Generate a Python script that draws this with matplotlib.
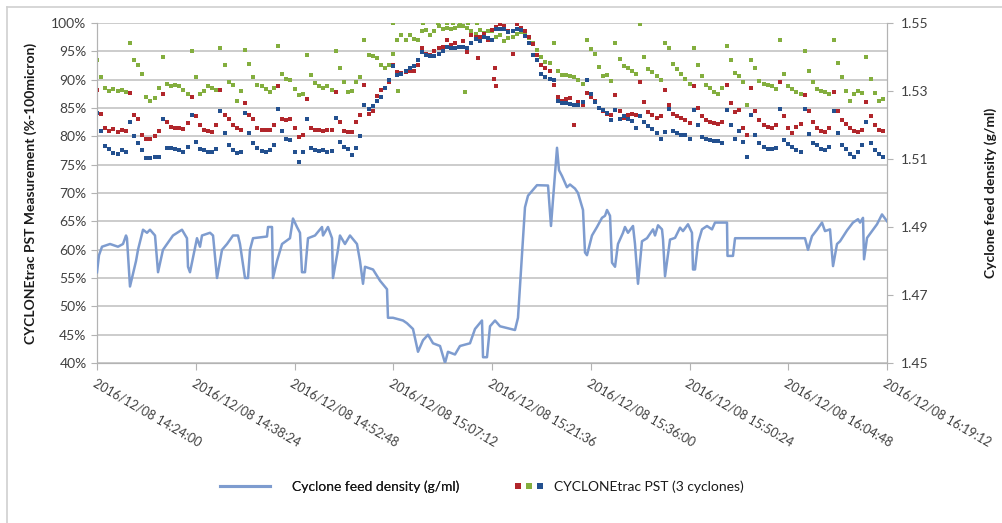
import numpy as np
import pandas as pd
import matplotlib
matplotlib.use("Agg")
import matplotlib.pyplot as plt
import matplotlib.dates as mdates
from matplotlib.ticker import PercentFormatter, FormatStrFormatter
from matplotlib.legend_handler import HandlerTuple
from matplotlib.lines import Line2D

plt.rcParams['font.family'] = ['Lato', 'DejaVu Sans']

inicio = pd.Timestamp("2016-12-08 14:24:00")

# densidad de alimentacion: (minutos desde 14:24:00, g/ml)
lectura_densidad = [
    (0.00, 1.4767), (0.29, 1.4817), (0.73, 1.4842), (1.90, 1.4850), (3.06, 1.4842),
    (3.79, 1.4850), (4.23, 1.4875), (4.37, 1.4867), (4.81, 1.4725), (5.69, 1.4800),
    (5.98, 1.4833), (6.71, 1.4892), (7.29, 1.4883), (7.73, 1.4892), (8.46, 1.4875),
    (8.90, 1.4767), (9.62, 1.4833), (11.08, 1.4875), (12.39, 1.4892), (13.12, 1.4867),
    (13.27, 1.4783), (13.56, 1.4767), (14.58, 1.4867), (15.02, 1.4842), (15.31, 1.4875),
    (16.48, 1.4883), (16.92, 1.4875), (17.50, 1.4750), (18.23, 1.4833), (18.96, 1.4850),
    (19.83, 1.4875), (20.56, 1.4875), (20.85, 1.4850), (21.58, 1.4750), (22.02, 1.4750),
    (22.31, 1.4833), (22.75, 1.4867), (24.79, 1.4872), (24.94, 1.4900), (25.52, 1.4900),
    (25.66, 1.4750), (26.25, 1.4800), (26.98, 1.4850), (28.14, 1.4867), (28.58, 1.4925),
    (29.16, 1.4900), (29.60, 1.4883), (29.89, 1.4767), (30.33, 1.4767), (30.77, 1.4867),
    (31.79, 1.4875), (32.81, 1.4900), (32.96, 1.4875), (33.68, 1.4900), (34.27, 1.4867),
    (34.41, 1.4750), (35.14, 1.4833), (35.43, 1.4875), (36.16, 1.4850), (36.89, 1.4875),
    (37.91, 1.4850), (38.35, 1.4800), (38.79, 1.4733), (39.08, 1.4783), (40.25, 1.4775),
    (41.27, 1.4742), (42.29, 1.4717), (42.43, 1.4633), (43.16, 1.4633), (44.62, 1.4625),
    (45.20, 1.4617), (46.08, 1.4600), (46.81, 1.4533), (47.54, 1.4567), (48.27, 1.4583),
    (49.00, 1.4558), (50.02, 1.4550), (50.75, 1.4500), (51.18, 1.4533), (52.20, 1.4525),
    (52.93, 1.4550), (54.39, 1.4558), (55.12, 1.4600), (56.14, 1.4625), (56.29, 1.4517),
    (56.87, 1.4517), (57.31, 1.4608), (58.04, 1.4625), (58.77, 1.4608), (60.95, 1.4597),
    (61.39, 1.4633), (61.97, 1.4820), (62.41, 1.4958), (62.85, 1.4992), (64.16, 1.5023),
    (65.77, 1.5022), (66.20, 1.4903), (66.64, 1.5017), (67.08, 1.5133), (67.37, 1.5067),
    (67.81, 1.5050), (68.53, 1.5017), (68.97, 1.5025), (69.70, 1.5013), (70.14, 1.5000),
    (70.87, 1.4950), (71.16, 1.4825), (71.45, 1.4817), (72.18, 1.4875), (72.91, 1.4900),
    (73.64, 1.4927), (74.08, 1.4933), (74.37, 1.4950), (74.81, 1.4933), (75.10, 1.4795),
    (75.54, 1.4783), (75.97, 1.4850), (76.70, 1.4883), (76.99, 1.4900), (77.43, 1.4883),
    (78.16, 1.4903), (78.45, 1.4850), (78.89, 1.4733), (79.47, 1.4858), (80.20, 1.4867),
    (81.08, 1.4893), (81.37, 1.4875), (81.81, 1.4905), (82.39, 1.4893), (82.54, 1.4863),
    (82.83, 1.4755), (83.56, 1.4863), (84.29, 1.4868), (85.02, 1.4898), (85.45, 1.4888),
    (86.18, 1.4908), (86.76, 1.4883), (86.91, 1.4775), (87.20, 1.4775), (87.64, 1.4853),
    (88.22, 1.4893), (88.95, 1.4903), (89.68, 1.4893), (90.12, 1.4913), (91.87, 1.4913),
    (91.94, 1.4815), (92.74, 1.4815), (93.04, 1.4867), (103.24, 1.4867), (103.68, 1.4833),
    (104.26, 1.4873), (104.99, 1.4892), (105.72, 1.4913), (106.16, 1.4888), (106.89, 1.4893),
    (107.33, 1.4785), (107.91, 1.4850), (108.35, 1.4858), (109.37, 1.4890), (110.24, 1.4913),
    (110.97, 1.4923), (111.27, 1.4913), (111.70, 1.4927), (111.85, 1.4805), (112.29, 1.4868),
    (113.01, 1.4888), (113.74, 1.4908), (114.47, 1.4937), (115.20, 1.4917),
]

# CYCLONEtrac PST (%-100micron), una lectura cada 0.6 min
paso_pst = 0.6
pst_verde = [
    93.5, 90.5, 88.5, 88.0, 88.3, 88.0, 88.2, 87.8, 96.5, 93.5,
    92.5, 91.0, 87.0, 86.3, 86.8, 88.5, 94.0, 89.2, 88.8, 89.0,
    88.8, 88.2, 87.5, 95.0, 90.5, 87.5, 88.0, 88.8, 88.6, 88.2,
    95.5, 92.5, 89.5, 89.0, 86.3, 88.0, 95.3, 92.8, 90.5, 89.0,
    88.8, 88.3, 87.8, 88.5, 96.0, 91.0, 90.2, 90.0, 88.3, 87.3,
    87.5, 94.4, 90.8, 89.4, 88.8, 88.5, 88.8, 88.2, 95.0, 92.0,
    89.5, 87.9, 88.0, 89.5, 90.5, 97.0, 94.4, 94.2, 93.8, 92.6,
    92.0, 92.5, 94.5, 97.0, 97.8, 97.0, 97.8, 97.2, 97.0, 98.5,
    98.8, 97.8, 98.5, 99.5, 99.0, 99.2, 99.0, 99.2, 99.4, 99.5,
    99.2, 98.5, 98.0, 98.8, 98.3, 98.6, 98.6, 97.5, 97.8, 96.8,
    97.3, 97.6, 98.0, 98.4, 98.1, 97.4, 96.4, 95.2, 94.0, 93.2,
    93.0, 96.4, 91.6, 90.8, 90.8, 90.7, 90.5, 90.0, 89.2, 97.0,
    95.4, 94.5, 92.2, 90.6, 90.8, 89.8, 96.4, 93.6, 92.4, 92.0,
    91.6, 91.0, 99.8, 94.0, 91.8, 91.4, 90.7, 90.0, 96.5, 95.5,
    92.8, 91.8, 91.0, 90.2, 89.3, 95.5, 92.6, 90.6, 89.0, 88.5,
    87.8, 87.4, 88.6, 96.0, 93.5, 91.2, 90.7, 89.5, 85.5, 93.5,
    92.0, 89.8, 89.2, 89.0, 88.8, 88.4, 97.0, 91.0, 88.8, 88.3,
    87.8, 87.5, 95.0, 91.5, 89.5, 88.3, 88.0, 87.8, 87.4, 97.0,
    93.0, 90.5, 88.0, 86.3, 87.5, 88.0, 87.6, 94.0, 90.2, 87.6,
    86.3, 86.5,
]
pst_rojo = [
    88.2, 84.0, 81.4, 81.0, 81.3, 80.8, 81.2, 81.0, 87.6, 83.8,
    83.0, 80.2, 79.6, 79.6, 80.0, 81.0, 87.5, 82.6, 81.7, 81.4,
    81.5, 81.3, 82.3, 87.0, 83.5, 82.0, 81.2, 81.0, 80.8, 82.0,
    88.2, 83.8, 83.0, 82.0, 81.4, 81.2, 85.8, 83.8, 83.0, 81.4,
    81.2, 81.1, 81.2, 82.0, 88.8, 83.0, 82.8, 83.0, 81.5, 79.8,
    80.3, 86.5, 81.5, 81.1, 81.1, 81.0, 81.2, 81.1, 87.9, 82.5,
    81.0, 80.8, 80.8, 82.5, 83.8, 89.0, 84.0, 84.5, 87.2, 88.2,
    88.5, 89.5, 92.5, 91.3, 91.1, 91.3, 91.5, 91.6, 92.6, 95.5,
    94.6, 94.4, 95.0, 95.5, 95.8, 97.0, 96.2, 96.5, 95.8, 96.8,
    94.9, 97.8, 97.5, 97.6, 98.0, 97.0, 98.8, 99.3, 99.8, 99.5,
    98.6, 94.6, 99.8, 99.2, 98.5, 97.5, 96.3, 94.4, 92.5, 92.0,
    91.5, 89.0, 87.0, 86.2, 86.5, 86.7, 82.0, 86.0, 85.5, 87.6,
    87.0, 86.2, 85.0, 84.5, 84.0, 83.8, 87.3, 84.5, 83.2, 83.8,
    84.0, 83.8, 89.6, 86.0, 84.3, 83.8, 83.2, 83.6, 88.2, 85.5,
    84.0, 83.5, 83.2, 82.8, 82.3, 88.8, 85.0, 83.5, 82.9, 82.5,
    82.3, 82.1, 82.6, 89.0, 85.8, 84.3, 84.6, 81.5, 80.2, 88.5,
    84.4, 82.8, 82.0, 81.6, 81.4, 82.0, 89.6, 83.5, 81.4, 80.5,
    81.6, 82.2, 87.3, 84.5, 82.6, 81.4, 81.0, 80.8, 81.4, 87.9,
    84.5, 82.9, 82.2, 81.4, 81.0, 80.8, 81.2, 86.1, 83.5, 82.0,
    81.2, 81.0,
]
pst_azul = [
    84.1, 81.0, 78.3, 77.8, 77.0, 76.8, 77.5, 77.3, 82.6, 80.0,
    78.8, 77.5, 76.1, 76.1, 76.4, 76.4, 83.0, 77.9, 77.9, 77.8,
    77.6, 77.3, 78.2, 83.8, 79.0, 77.8, 77.6, 77.3, 77.3, 77.8,
    84.4, 80.5, 78.4, 77.6, 77.0, 77.2, 84.1, 80.5, 78.8, 77.9,
    77.4, 77.3, 77.6, 78.5, 84.9, 81.0, 79.6, 79.3, 77.2, 75.5,
    77.3, 83.0, 78.0, 77.6, 77.4, 77.5, 77.3, 77.4, 83.2, 79.0,
    78.2, 77.8, 76.7, 78.0, 80.0, 85.5, 84.8, 85.3, 86.2, 87.0,
    88.5, 90.0, 92.4, 90.8, 91.0, 91.5, 92.0, 92.4, 93.5, 94.9,
    94.3, 94.1, 94.1, 94.6, 95.0, 95.8, 95.5, 95.5, 95.8, 95.8,
    95.5, 96.5, 97.2, 96.8, 97.6, 97.4, 97.0, 99.0, 99.0, 99.0,
    98.4, 98.6, 99.0, 98.8, 97.7, 96.5, 94.4, 93.5, 91.0, 90.5,
    90.1, 90.0, 86.2, 85.8, 85.8, 85.7, 85.5, 85.5, 86.0, 90.0,
    87.5, 86.0, 85.0, 84.6, 84.1, 82.9, 84.6, 83.0, 83.6, 83.0,
    82.7, 81.5, 83.5, 82.6, 81.8, 81.3, 80.5, 79.6, 80.7, 84.9,
    80.9, 80.5, 80.3, 80.2, 79.5, 84.6, 82.0, 79.8, 79.5, 79.4,
    79.2, 79.1, 78.9, 84.6, 82.0, 79.6, 80.9, 79.0, 76.4, 83.8,
    80.3, 78.8, 78.2, 77.7, 77.8, 78.0, 84.9, 79.4, 78.6, 78.1,
    77.6, 77.3, 84.9, 80.4, 78.8, 78.4, 77.8, 77.6, 78.2, 84.4,
    80.5, 78.5, 77.8, 76.9, 76.4, 77.3, 78.5, 82.6, 78.8, 77.6,
    76.8, 76.3,
]
# puntos sueltos (minutos, %)
sueltos_verde = [(43.16, 100.0), (43.89, 88.0), (47.54, 100.0), (49.72, 100.0),
                 (51.04, 100.0), (51.91, 100.0), (52.93, 100.0), (53.66, 87.9),
                 (54.10, 100.0), (55.41, 100.0)]
sueltos_rojo = [(55.56, 93.8), (58.04, 92.0), (57.89, 90.2), (58.18, 88.8)]

color_densidad = '#7E9CCF'
color_azul = '#23508F'
color_rojo = '#B1262B'
color_verde = '#83AE3E'
gris = '#B3B3B3'
texto = '#404040'


def a_fecha(minutos):
    return inicio + pd.to_timedelta(np.asarray(minutos, dtype=float), unit='min')


fig = plt.figure(figsize=(10.03, 5.23), dpi=100)
ax = fig.add_axes([0.09671, 0.30593, 0.78764, 0.65010])
ax2 = ax.twinx()

t_pst = a_fecha(np.arange(len(pst_verde)) * paso_pst)
estilo = dict(ls='none', marker='s', ms=2.2, mew=0, zorder=3)
ax.plot(t_pst, pst_verde, color=color_verde, **estilo)
ax.plot(t_pst, pst_rojo, color=color_rojo, **estilo)
ax.plot(t_pst, pst_azul, color=color_azul, **estilo)
ax.plot(a_fecha([p[0] for p in sueltos_verde]), [p[1] for p in sueltos_verde],
        color=color_verde, **estilo)
ax.plot(a_fecha([p[0] for p in sueltos_rojo]), [p[1] for p in sueltos_rojo],
        color=color_rojo, **estilo)

ax2.plot(a_fecha([p[0] for p in lectura_densidad]), [p[1] for p in lectura_densidad],
         color=color_densidad, lw=1.8, zorder=3)

# ejes
ax.set_xlim(inicio, inicio + pd.Timedelta(minutes=115.2))
ax.set_ylim(40, 100)
ax.set_yticks(np.arange(40, 101, 5))
ax.yaxis.set_major_formatter(PercentFormatter(100, decimals=0))
ax.yaxis.grid(True, color='#BFBFBF', lw=1.1)
ax.set_axisbelow(True)

ax2.set_ylim(1.45, 1.55)
ax2.set_yticks(np.arange(1.45, 1.5501, 0.02))
ax2.yaxis.set_major_formatter(FormatStrFormatter('%.2f'))

marcas = [inicio + pd.Timedelta(minutes=14.4 * k) for k in range(9)]
ax.set_xticks(marcas)
ax.xaxis.set_major_formatter(mdates.DateFormatter('%Y/%m/%d %H:%M:%S'))
for lab in ax.get_xticklabels():
    lab.set_rotation(-30)
    lab.set_ha('left')
    lab.set_va('top')
    lab.set_rotation_mode('anchor')

for a in (ax, ax2):
    for s in a.spines.values():
        s.set_color(gris)
    a.spines['top'].set_visible(False)
ax.tick_params(axis='x', colors=gris, length=5, labelcolor=texto, labelsize=9, pad=5)
ax.tick_params(axis='y', colors=gris, length=4, labelcolor=texto, labelsize=10)
ax2.tick_params(axis='y', colors=gris, length=4, labelcolor=texto, labelsize=10, pad=6)

ax.set_ylabel('CYCLONEtrac PST Measurement (%-100micron)', fontsize=10,
              fontweight='bold', color='#1a1a1a', labelpad=10)
ax2.set_ylabel('Cyclone feed density (g/ml)', fontsize=10, fontweight='bold',
               color='#1a1a1a', labelpad=40)

# leyendas
h_linea = Line2D([], [], color=color_densidad, lw=2.2)
ley1 = fig.legend([h_linea], ['Cyclone feed density (g/ml)'], loc='center left',
                  bbox_to_anchor=(220 / 1003, 1 - 487 / 523), frameon=False,
                  fontsize=10, borderpad=0, borderaxespad=0, handlelength=3.6,
                  handletextpad=1.6, labelcolor='#1a1a1a')
cuadros = tuple(Line2D([], [], ls='none', marker='s', ms=4.5, mew=0, color=c)
                for c in (color_rojo, color_verde, color_azul))
fig.legend([cuadros], ['CYCLONEtrac PST (3 cyclones)'], loc='center left',
           bbox_to_anchor=(514 / 1003, 1 - 487 / 523), frameon=False,
           fontsize=10, borderpad=0, borderaxespad=0, handlelength=2.2,
           handletextpad=0.7, labelcolor='#1a1a1a',
           handler_map={tuple: HandlerTuple(ndivide=None, pad=0.15)})
fig.add_artist(ley1)

# marco exterior
fig.add_artist(Line2D([7 / 1003, 1.0], [1 - 7 / 523, 1 - 7 / 523], color='#D0D0D0', lw=1.2))
fig.add_artist(Line2D([7 / 1003, 7 / 1003], [0.0, 1 - 7 / 523], color='#D0D0D0', lw=1.2))

fig.savefig('out.png', dpi=100)
